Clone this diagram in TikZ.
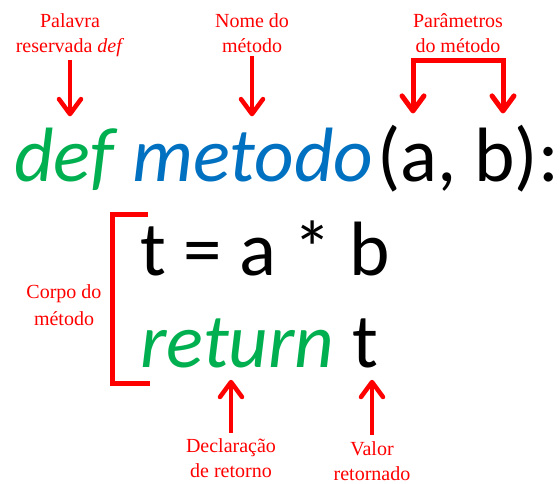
\documentclass[tikz,border=0pt]{standalone}
\usepackage{fontspec}
\setmainfont{Liberation Serif}
\newfontfamily\codefont{Carlito}
\usetikzlibrary{arrows.meta}

\definecolor{kwgreen}{RGB}{0,176,80}
\definecolor{fnblue}{RGB}{0,112,192}
\definecolor{notered}{RGB}{255,0,0}

\tikzset{
  note/.style={text=notered, font=\fontsize{20}{25}\selectfont, align=center, inner sep=0pt, anchor=base},
  code/.style={font=\codefont\fontsize{77}{90}\selectfont, inner sep=0pt, anchor=base west},
  codeit/.style={code, font=\codefont\itshape\fontsize{77}{90}\selectfont},
  barb/.tip={Straight Barb[length=15pt,width=22pt,round]},
  redarrow/.style={draw=notered, line width=4.5pt, -barb},
  redline/.style={draw=notered, line width=5pt, line join=miter},
}

\begin{document}
\begin{tikzpicture}[x=1pt,y=-1pt]
  \useasboundingbox (0,0) rectangle (560,484);

  % Header: def metodo(a, b):
  \node[codeit, text=kwgreen] (kwDef) at (14,182) {def};
  \node[codeit, text=fnblue] (fnName) at ([xshift=18pt]kwDef.base east) {metodo};
  \node[code] (argList) at ([xshift=4pt]fnName.base east) {(a, b):};

  % Body
  \node[code] (bodyLine) at (140,275) {t = a * b};
  \node[codeit, text=kwgreen] (kwRet) at (140,367) {return};
  \node[code] (retVal) at ([xshift=18pt]kwRet.base east) {t};

  % Labels (anchored on the last line)
  \node[note] (lblDef) at (70,53) {Palavra\\reservada \textit{def}};
  \node[note] (lblName) at (252,53) {Nome do\\método};
  \node[note] (lblPar) at (458,53) {Parâmetros\\do método};
  \node[note, font=\fontsize{20}{27}\selectfont] (lblBody) at (64,325) {Corpo do\\método};
  \node[note] (lblDecl) at (231,477) {Declaração\\de retorno};
  \node[note] (lblVal) at (372,480) {Valor\\retornado};

  % Arrows down to the header
  \draw[redarrow, shorten <=3pt, shorten >=12pt] (lblDef.south) -- (lblDef.south |- kwDef.north);
  \draw[redarrow, shorten <=3pt, shorten >=12pt] (lblName.south) -- (lblName.south |- fnName.north);
  \coordinate (parTop) at ([yshift=-7pt]lblPar.south);
  \draw[redline, barb-barb] ([xshift=-45pt,yshift=-53pt]parTop) |- (parTop) -| ([xshift=45pt,yshift=-53pt]parTop);

  % Body bracket
  \draw[redline] (148,215) -| (112,383) -- (150,383);

  % Arrows up to the return line
  \draw[redarrow, shorten >=12pt] ([yshift=5pt]lblDecl.north) -- (lblDecl.north |- kwRet.south);
  \draw[redarrow, shorten >=12pt] ([yshift=6pt]lblVal.north) -- (lblVal.north |- retVal.south);
\end{tikzpicture}
\end{document}
